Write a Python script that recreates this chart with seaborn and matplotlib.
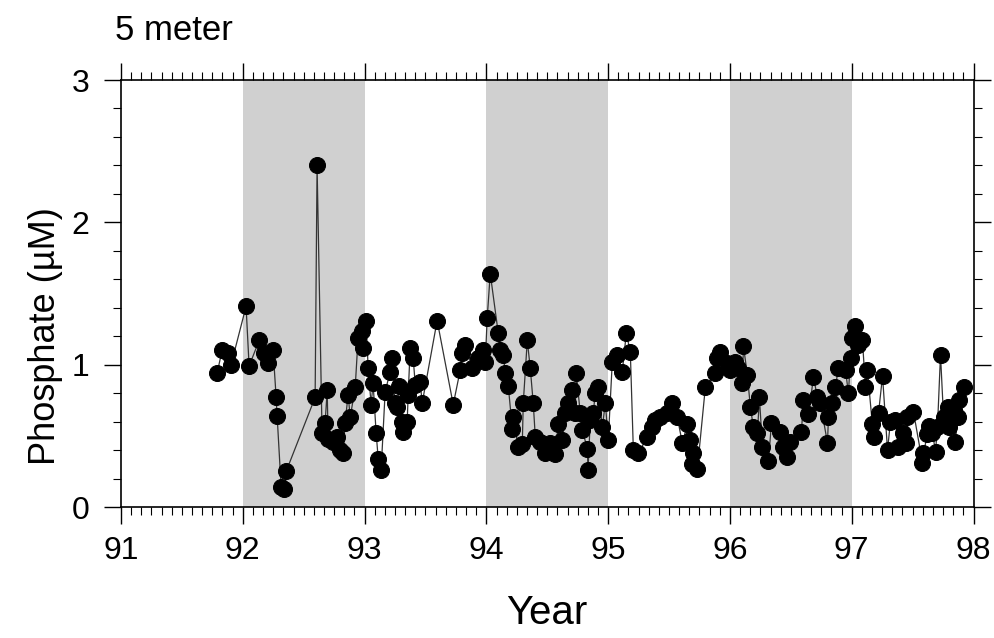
import matplotlib
matplotlib.use("Agg")
import matplotlib.pyplot as plt
from matplotlib.ticker import MultipleLocator
import seaborn as sns
import pandas as pd

# ---- data ----
years = [91.789, 91.830, 91.879, 91.904, 92.027, 92.052, 92.134, 92.175, 92.208, 92.249,
         92.274, 92.282, 92.315, 92.339, 92.356, 92.594, 92.610, 92.651, 92.676, 92.693,
         92.701, 92.742, 92.775, 92.799, 92.824, 92.840, 92.865, 92.882, 92.923, 92.947,
         92.980, 92.988, 93.013, 93.029, 93.054, 93.070, 93.095, 93.112, 93.136, 93.169,
         93.210, 93.227, 93.251, 93.268, 93.284, 93.309, 93.317, 93.350, 93.358, 93.375,
         93.399, 93.416, 93.457, 93.473, 93.596, 93.728, 93.785, 93.802, 93.826, 93.884,
         93.933, 93.974, 93.991, 94.007, 94.032, 94.098, 94.114, 94.139, 94.155, 94.180,
         94.213, 94.221, 94.262, 94.295, 94.303, 94.336, 94.360, 94.385, 94.402, 94.443,
         94.484, 94.525, 94.566, 94.590, 94.623, 94.648, 94.673, 94.706, 94.730, 94.738,
         94.771, 94.788, 94.829, 94.835, 94.853, 94.878, 94.894, 94.919, 94.952, 94.977,
         95.001, 95.034, 95.075, 95.116, 95.149, 95.182, 95.207, 95.248, 95.322, 95.363,
         95.387, 95.429, 95.486, 95.527, 95.568, 95.609, 95.650, 95.675, 95.691, 95.700,
         95.733, 95.798, 95.880, 95.897, 95.922, 95.979, 96.004, 96.045, 96.069, 96.102,
         96.111, 96.143, 96.168, 96.193, 96.226, 96.242, 96.267, 96.316, 96.341, 96.415,
         96.439, 96.472, 96.497, 96.587, 96.604, 96.645, 96.686, 96.719, 96.743, 96.801,
         96.809, 96.842, 96.866, 96.891, 96.949, 96.973, 96.990, 97.006, 97.031, 97.055,
         97.088, 97.113, 97.129, 97.170, 97.179, 97.220, 97.253, 97.294, 97.318, 97.359,
         97.384, 97.417, 97.442, 97.458, 97.507, 97.581, 97.589, 97.622, 97.631, 97.663,
         97.688, 97.704, 97.729, 97.754, 97.787, 97.795, 97.836, 97.852, 97.869, 97.877,
         97.918]
phosphate = [0.94, 1.10, 1.08, 1.00, 1.41, 0.99, 1.17, 1.08, 1.01, 1.10,
             0.77, 0.64, 0.14, 0.13, 0.25, 0.77, 2.40, 0.52, 0.59, 0.82,
             0.48, 0.46, 0.49, 0.40, 0.38, 0.59, 0.79, 0.63, 0.84, 1.19,
             1.24, 1.12, 1.31, 0.98, 0.72, 0.87, 0.52, 0.34, 0.26, 0.81,
             0.95, 1.05, 0.73, 0.70, 0.85, 0.60, 0.53, 0.60, 0.79, 1.12,
             1.05, 0.86, 0.88, 0.73, 1.31, 0.72, 0.96, 1.08, 1.14, 0.98,
             1.05, 1.10, 1.02, 1.33, 1.64, 1.22, 1.10, 1.07, 0.94, 0.85,
             0.55, 0.63, 0.42, 0.44, 0.73, 1.17, 0.98, 0.73, 0.49, 0.46,
             0.38, 0.45, 0.37, 0.58, 0.47, 0.66, 0.73, 0.82, 0.66, 0.94,
             0.66, 0.54, 0.41, 0.26, 0.61, 0.66, 0.80, 0.84, 0.56, 0.73,
             0.47, 1.02, 1.07, 0.95, 1.22, 1.09, 0.40, 0.38, 0.49, 0.56,
             0.61, 0.63, 0.66, 0.73, 0.63, 0.45, 0.58, 0.47, 0.30, 0.38,
             0.27, 0.84, 0.94, 1.05, 1.09, 1.01, 0.96, 1.02, 0.98, 0.87,
             1.13, 0.93, 0.70, 0.56, 0.52, 0.77, 0.42, 0.32, 0.59, 0.53,
             0.42, 0.35, 0.46, 0.53, 0.75, 0.65, 0.91, 0.77, 0.73, 0.45,
             0.63, 0.73, 0.84, 0.98, 0.96, 0.80, 1.05, 1.19, 1.27, 1.14,
             1.17, 0.84, 0.96, 0.58, 0.49, 0.66, 0.92, 0.40, 0.60, 0.61,
             0.42, 0.52, 0.45, 0.63, 0.67, 0.31, 0.38, 0.51, 0.57, 0.52,
             0.39, 0.56, 1.07, 0.63, 0.70, 0.56, 0.68, 0.46, 0.63, 0.75,
             0.84]
shade_starts = [92, 94, 96]
shade_ends = [93, 95, 97]
xticks = [91, 92, 93, 94, 95, 96, 97, 98]
xtick_labels = ["91", "92", "93", "94", "95", "96", "97", "98"]
yticks = [0, 1, 2, 3]
ytick_labels = ["0", "1", "2", "3"]
title_text = "5 meter"
xlabel_text = "Year"
ylabel_text = "Phosphate (\u00b5M)"

df = pd.DataFrame({"Year": years, "Phosphate": phosphate})

sns.set_style("ticks")
plt.rcParams["font.family"] = ["Liberation Sans", "DejaVu Sans"]
plt.rcParams["text.color"] = "black"
plt.rcParams["axes.labelcolor"] = "black"

fig = plt.figure(figsize=(9.95, 6.38), dpi=100)
ax = fig.add_axes([0.1216, 0.2053, 0.8568, 0.6693])

for s, e in zip(shade_starts, shade_ends):
    ax.axvspan(s, e, color="#d0d0d0", lw=0, zorder=0)

sns.lineplot(data=df, x="Year", y="Phosphate", ax=ax, estimator=None, sort=False,
             color="#333333", linewidth=0.9, marker="o", markersize=11.5,
             markerfacecolor="black", markeredgecolor="black", zorder=3)

ax.set_xlim(91, 98)
ax.set_ylim(0, 3)
ax.set_xticks(xticks)
ax.set_xticklabels(xtick_labels)
ax.set_yticks(yticks)
ax.set_yticklabels(ytick_labels)
ax.xaxis.set_minor_locator(MultipleLocator(1 / 12))
ax.yaxis.set_minor_locator(MultipleLocator(0.2))

ax.tick_params(axis="both", which="major", direction="out", length=12, width=1.0,
               labelsize=23, colors="black", top=True, right=True,
               labeltop=False, labelright=False)
ax.tick_params(axis="both", which="minor", direction="out", length=6, width=0.8,
               top=True, right=True, colors="black")
ax.tick_params(axis="x", which="major", pad=9)
ax.tick_params(axis="y", which="major", pad=11)

for sp in ax.spines.values():
    sp.set_linewidth(1.2)
    sp.set_color("black")

ax.set_xlabel(xlabel_text, fontsize=29, labelpad=20, color="black")
ax.set_ylabel(ylabel_text, fontsize=26, labelpad=8, color="black")
ax.yaxis.set_label_coords(-0.068, 0.40)
fig.text(0.116, 0.952, title_text, fontsize=25, ha="left", va="center", color="black")

fig.savefig("out.png", dpi=100)
